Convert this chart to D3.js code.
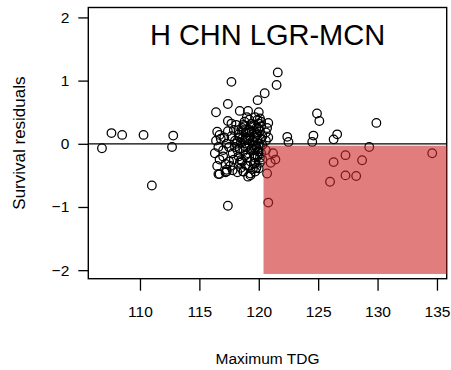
<!DOCTYPE html>
<html>
<head>
<meta charset="utf-8">
<script src="https://cdn.jsdelivr.net/npm/d3@7"></script>
<style>
  html, body { margin: 0; padding: 0; background: #fff; }
  svg { display: block; font-family: "Liberation Sans", Arial, sans-serif; }
</style>
</head>
<body>
<svg id="chart" width="451" height="370"></svg>
<script>
// Maximum TDG (x) and survival residual (y) for each release group
const tdg = [
  106.8, 107.6, 108.5, 110.3, 112.8, 112.7, 111.0,
  124.9, 125.1, 129.9, 124.6, 124.5, 126.6, 126.3, 129.3, 127.3, 126.3, 128.7, 134.6, 127.3, 128.2, 126.0,
  122.4, 122.5,
  116.3, 116.5, 116.6, 116.4, 116.7, 116.8, 116.6,
  117.0, 117.1, 117.2, 117.3, 117.0, 117.4, 117.5, 117.3, 117.2, 117.5,
  117.7, 117.8, 117.6, 117.9, 118.0, 117.8, 118.0, 117.9,
  118.1, 118.2, 118.3, 118.4, 118.2, 118.5, 118.3, 118.1, 118.4, 118.5, 118.6,
  118.7, 118.8, 118.6, 118.9, 118.7, 118.9, 118.8, 119.0, 118.9, 119.0, 118.7,
  119.1, 119.2, 119.3, 119.1, 119.4, 119.2, 119.3, 119.4, 119.5, 119.1, 119.5, 119.3, 119.2,
  119.6, 119.7, 119.6, 119.8, 119.7, 119.9, 119.8, 119.9, 120.0, 119.6, 119.7, 120.0, 119.8, 120.0, 119.9, 119.7,
  120.1, 120.2, 120.1, 120.2, 120.3, 120.1, 120.3, 120.2, 120.3, 120.1,
  120.7, 120.8, 120.6, 120.8, 120.6,
  120.7, 121.2, 121.4, 121.0, 120.6, 120.8,
  116.4, 117.4, 117.7, 118.4, 119.1, 120.0, 117.4, 117.7, 116.5, 116.7, 119.9, 120.5, 121.5, 121.6,
  117.4, 116.7, 117.3, 118.7, 119.1, 119.3, 119.7, 120.0,
  118.6, 118.9, 119.2, 119.5, 119.8, 120.1, 118.4, 118.8, 119.4, 119.6, 119.9, 120.2,
  118.3, 118.7, 119.0, 119.3, 119.6, 119.9, 118.5, 119.1, 119.7, 120.0, 118.2, 118.9
];
const resid = [
  -0.07, 0.17, 0.14, 0.14, 0.13, -0.05, -0.66,
  0.48, 0.36, 0.33, 0.13, 0.03, 0.15, 0.07, -0.05, -0.18, -0.29, -0.26, -0.15, -0.50, -0.51, -0.60,
  0.11, 0.03,
  -0.15, -0.35, -0.48, 0.05, -0.25, 0.08, -0.05,
  -0.20, 0.10, -0.32, -0.41, -0.10, 0.20, -0.05, 0.00, -0.45, -0.28,
  0.12, -0.15, -0.35, 0.22, -0.05, -0.42, 0.05, -0.25,
  0.30, -0.10, 0.15, -0.30, -0.45, 0.02, -0.20, 0.00, 0.10, -0.38, 0.25,
  -0.12, 0.05, -0.28, 0.18, -0.44, -0.05, 0.35, -0.22, 0.10, 0.42, 0.20,
  -0.35, 0.00, 0.28, -0.15, -0.08, 0.12, -0.28, 0.20, -0.40, 0.08, 0.05, -0.50, 0.38,
  -0.18, 0.10, 0.30, -0.05, -0.30, 0.15, 0.25, -0.20, 0.00, -0.10, 0.42, -0.12, -0.38, 0.32, 0.05, -0.22,
  0.20, 0.08, -0.30, -0.15, 0.12, 0.40, -0.02, 0.28, -0.25, -0.05,
  0.25, 0.10, 0.05, 0.33, 0.18,
  -0.47, -0.15, -0.25, -0.30, -0.10, -0.93,
  0.50, 0.63, 0.98, 0.52, 0.52, 0.50, 0.36, 0.32, 0.19, 0.14, 0.69, 0.80, 0.93, 1.13,
  -0.98, -0.48, -0.44, -0.44, -0.52, -0.47, -0.44, -0.39,
  0.08, -0.18, 0.22, -0.02, 0.14, -0.22, -0.08, 0.28, 0.32, -0.32, -0.12, 0.35,
  0.22, 0.30, 0.06, -0.10, 0.20, 0.38, -0.26, 0.18, -0.02, 0.24, 0.04, -0.34
];
const points = tdg.map((x, i) => ({ x, y: resid[i] }));

const xTicks = [110, 115, 120, 125, 130, 135];
const yTicks = [-2, -1, 0, 1, 2];
// shaded zone: TDG above threshold with negative residuals
const zoneX = [120.4, 140];
const zoneY = [-2.06, -0.03];

const title = "H CHN LGR-MCN";
const xLabel = "Maximum TDG";
const yLabel = "Survival residuals";

const plot = { left: 88.3, right: 446.7, top: 7.5, bottom: 278.7 };

const x = d3.scaleLinear().domain([105.65, 135.82]).range([plot.left, plot.right]);
const y = d3.scaleLinear().domain([-2.135, 2.157]).range([plot.bottom, plot.top]);

const svg = d3.select("#chart");

svg.append("defs").append("clipPath").attr("id", "plotClip")
  .append("rect")
  .attr("x", plot.left).attr("y", plot.top)
  .attr("width", plot.right - plot.left).attr("height", plot.bottom - plot.top);

// axes
const xAxis = d3.axisBottom(x).tickValues(xTicks).tickSize(12).tickPadding(15).tickFormat(d3.format("d"));
const yAxis = d3.axisLeft(y).tickValues(yTicks).tickSize(10).tickPadding(9).tickFormat(d3.format("d"));

const gx = svg.append("g").attr("transform", `translate(0,${plot.bottom})`).call(xAxis);
const gy = svg.append("g").attr("transform", `translate(${plot.left},0)`).call(yAxis);
[gx, gy].forEach(g => {
  g.select(".domain").remove();
  g.selectAll(".tick line").attr("stroke", "#000").attr("stroke-width", 1.3);
  g.selectAll(".tick text").attr("fill", "#000").style("font-size", "15.5px")
    .style("font-family", "'Liberation Sans', Arial, sans-serif");
});

// reference line at zero
svg.append("line")
  .attr("x1", plot.left).attr("x2", plot.right)
  .attr("y1", y(0)).attr("y2", y(0))
  .attr("stroke", "#000").attr("stroke-width", 1.3);

// points
svg.append("g").selectAll("circle").data(points).join("circle")
  .attr("cx", d => x(d.x)).attr("cy", d => y(d.y))
  .attr("r", 4.3)
  .attr("fill", "none").attr("stroke", "#000").attr("stroke-width", 1.25);

// plot frame
svg.append("rect")
  .attr("x", plot.left).attr("y", plot.top)
  .attr("width", plot.right - plot.left).attr("height", plot.bottom - plot.top)
  .attr("fill", "none").attr("stroke", "#000").attr("stroke-width", 1.4);

// translucent shaded zone over the points
svg.append("rect")
  .attr("clip-path", "url(#plotClip)")
  .attr("x", x(zoneX[0])).attr("y", y(zoneY[1]))
  .attr("width", x(zoneX[1]) - x(zoneX[0]))
  .attr("height", y(zoneY[0]) - y(zoneY[1]))
  .attr("fill", "rgb(205,38,38)").attr("fill-opacity", 0.6);

// title
svg.append("text")
  .attr("x", (plot.left + plot.right) / 2).attr("y", 45)
  .attr("text-anchor", "middle")
  .style("font-size", "29px")
  .text(title);

// axis titles
svg.append("text")
  .attr("x", (plot.left + plot.right) / 2).attr("y", 364)
  .attr("text-anchor", "middle")
  .style("font-size", "15.5px")
  .text(xLabel);

svg.append("text")
  .attr("transform", `translate(25,${(plot.top + plot.bottom) / 2}) rotate(-90)`)
  .attr("text-anchor", "middle")
  .style("font-size", "17px")
  .text(yLabel);
</script>
</body>
</html>
